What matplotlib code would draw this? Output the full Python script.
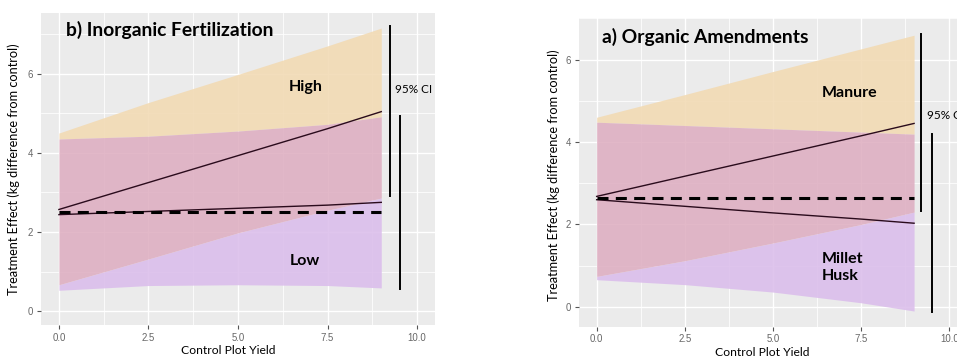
import numpy as np
import matplotlib
matplotlib.use("Agg")
import matplotlib.pyplot as plt

# ---------------- data ----------------
x_pts = [0.0, 2.5, 5.0, 7.5, 9.0]

# b) Inorganic Fertilization
inorg_high_line = [2.57, 3.25, 3.93, 4.61, 5.04]
inorg_high_upper = [4.50, 5.27, 5.98, 6.70, 7.15]
inorg_high_lower = [0.67, 1.32, 1.98, 2.55, 2.86]
inorg_low_line = [2.44, 2.52, 2.60, 2.68, 2.75]
inorg_low_upper = [4.35, 4.42, 4.55, 4.72, 4.91]
inorg_low_lower = [0.53, 0.65, 0.67, 0.65, 0.59]
inorg_ref = 2.50
inorg_ci_high = [7.21, 2.92]
inorg_ci_low = [4.94, 0.56]

# a) Organic Amendments
org_manure_line = [2.68, 3.17, 3.66, 4.15, 4.45]
org_manure_upper = [4.60, 5.15, 5.71, 6.26, 6.59]
org_manure_lower = [0.74, 1.12, 1.55, 2.00, 2.30]
org_millet_line = [2.60, 2.44, 2.28, 2.13, 2.03]
org_millet_upper = [4.48, 4.40, 4.32, 4.24, 4.19]
org_millet_lower = [0.66, 0.54, 0.36, 0.10, -0.10]
org_ref = 2.63
org_ci_manure = [6.63, 2.32]
org_ci_millet = [4.20, -0.12]

x_ticks = [0.0, 2.5, 5.0, 7.5, 10.0]
x_ticklabels = ["0.0", "2.5", "5.0", "7.5", "10.0"]
y_ticks = [0, 2, 4, 6]
y_ticklabels = ["0", "2", "4", "6"]

# ---------------- style ----------------
BG = "#EBEBEB"
YEL = "#F2DAB3"
PINK = "#DEAEC1"
PURP = "#DBBDEB"
LINEC = "#2a0b1c"
TEXTFONT = ["Lato", "DejaVu Sans"]
TICKFONT = ["Liberation Sans", "DejaVu Sans"]

fig = plt.figure(figsize=(9.57, 3.56), dpi=100)
fig.patch.set_facecolor("white")


def make_panel(rect, ylim, title, hi_line, hi_up, hi_lo, lo_line, lo_up, lo_lo,
               ref, ci1, ci2, ci_x1, ci_x2, hi_label, lo_label, hi_pos, lo_pos,
               title_pos, ci_text_pos):
    ax = fig.add_axes(rect)
    ax.set_facecolor(BG)
    ax.set_xlim(-0.5, 10.5)
    ax.set_ylim(*ylim)
    ax.set_axisbelow(True)
    for s in ax.spines.values():
        s.set_visible(False)
    ax.set_xticks(x_ticks)
    ax.set_xticklabels(x_ticklabels)
    ax.set_yticks(y_ticks)
    ax.set_yticklabels(y_ticklabels)
    ax.set_xticks([1.25, 3.75, 6.25, 8.75], minor=True)
    ax.set_yticks([1, 3, 5, 7], minor=True)
    ax.grid(True, which="major", color="white", lw=1.0)
    ax.grid(True, which="minor", color="white", lw=0.55)
    ax.tick_params(which="major", length=3, width=0.8, color="#555555",
                   labelsize=6.9, labelcolor="#666666", pad=2.5)
    ax.tick_params(which="minor", length=0)
    for lab in ax.get_xticklabels() + ax.get_yticklabels():
        lab.set_family(TICKFONT)

    x = np.array(x_pts)
    hu, hl = np.array(hi_up), np.array(hi_lo)
    lu, ll = np.array(lo_up), np.array(lo_lo)
    ov_lo = np.maximum(hl, ll)
    ov_hi = np.minimum(hu, lu)
    a = 0.88
    # high-only parts
    ax.fill_between(x, np.maximum(hl, lu), hu, where=hu > lu, interpolate=True,
                    color=YEL, alpha=a, lw=0, zorder=2)
    ax.fill_between(x, hl, np.minimum(hu, ll), where=hl < ll, interpolate=True,
                    color=YEL, alpha=a, lw=0, zorder=2)
    # low-only parts
    ax.fill_between(x, ll, np.minimum(lu, hl), where=ll < hl, interpolate=True,
                    color=PURP, alpha=a, lw=0, zorder=2)
    ax.fill_between(x, np.maximum(ll, hu), lu, where=lu > hu, interpolate=True,
                    color=PURP, alpha=a, lw=0, zorder=2)
    # overlap
    ax.fill_between(x, ov_lo, ov_hi, where=ov_hi > ov_lo, interpolate=True,
                    color=PINK, alpha=a, lw=0, zorder=2)

    ax.plot(x, hi_line, color=LINEC, lw=1.0, zorder=4)
    ax.plot(x, lo_line, color=LINEC, lw=1.0, zorder=4)
    ax.plot([x[0], x[-1]], [ref, ref], color="black", lw=2.2,
            dashes=(3.6, 2.4), zorder=5)

    ax.plot([ci_x1, ci_x1], ci1, color="black", lw=1.4, zorder=5)
    ax.plot([ci_x2, ci_x2], ci2, color="black", lw=1.4, zorder=5)

    ax.text(title_pos[0], title_pos[1], title, fontsize=13.9, fontweight="bold",
            family=TEXTFONT, ha="left", va="baseline", zorder=6)
    ax.text(hi_pos[0], hi_pos[1], hi_label, fontsize=11.5, fontweight="bold",
            family=TEXTFONT, ha=hi_pos[2], va="baseline", zorder=6)
    ax.text(lo_pos[0], lo_pos[1], lo_label, fontsize=11.5, fontweight="bold",
            family=TEXTFONT, ha=lo_pos[2], va="baseline", zorder=6,
            linespacing=1.25)
    ax.text(ci_text_pos[0], ci_text_pos[1], "95% CI", fontsize=8.5,
            family=TEXTFONT, ha="left", va="baseline", zorder=6, clip_on=False)

    ax.set_xlabel("Control Plot Yield", fontsize=8.7, family=TEXTFONT)
    ax.set_ylabel("Treatment Effect (kg difference from control)", fontsize=9.2,
                  family=TEXTFONT)
    return ax


ax1 = make_panel([41 / 957, 31 / 356, 394 / 957, 312 / 356], (-0.346, 7.53),
                 "b) Inorganic Fertilization",
                 inorg_high_line, inorg_high_upper, inorg_high_lower,
                 inorg_low_line, inorg_low_upper, inorg_low_lower,
                 inorg_ref, inorg_ci_high, inorg_ci_low, 9.25, 9.53,
                 "High", "Low", (6.88, 5.55, "center"), (6.88, 1.18, "center"),
                 (0.19, 6.96), (9.38, 5.51))
ax1.xaxis.set_label_coords(0.475, -0.064)
ax1.yaxis.set_label_coords(-0.053, 0.5)

ax2 = make_panel([579 / 957, 29.3 / 356, 388 / 957, 308.4 / 356], (-0.48, 6.99),
                 "a) Organic Amendments",
                 org_manure_line, org_manure_upper, org_manure_lower,
                 org_millet_line, org_millet_upper, org_millet_lower,
                 org_ref, org_ci_manure, org_ci_millet, 9.19, 9.50,
                 "Manure", "Millet\nHusk", (6.39, 5.08, "left"), (6.39, 0.66, "left"),
                 (0.16, 6.39), (9.36, 4.55))
ax2.xaxis.set_label_coords(0.473, -0.066)
ax2.yaxis.set_label_coords(-0.048, 0.49)

fig.savefig("out.png", dpi=100, facecolor="white")
